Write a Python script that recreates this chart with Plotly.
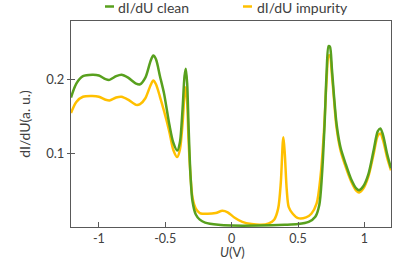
import plotly.graph_objects as go

# Data
u_clean = [-1.21, -1.17, -1.12, -1.05, -1.0, -0.95, -0.92, -0.87, -0.83, -0.78, -0.72, -0.69,
           -0.65, -0.61, -0.59, -0.57, -0.54, -0.51, -0.47, -0.44, -0.41, -0.39, -0.37, -0.355,
           -0.345, -0.335, -0.325, -0.31, -0.295, -0.27, -0.24, -0.2, -0.1, 0.0, 0.2, 0.4, 0.5,
           0.58, 0.63, 0.66, 0.68, 0.70, 0.715, 0.73, 0.74, 0.755, 0.77, 0.79, 0.82, 0.86, 0.9,
           0.94, 0.96, 0.99, 1.03, 1.07, 1.1, 1.12, 1.14, 1.17, 1.2]
didu_clean = [0.176, 0.195, 0.205, 0.207, 0.206, 0.201, 0.200, 0.205, 0.207, 0.203, 0.195, 0.194,
              0.203, 0.226, 0.233, 0.228, 0.205, 0.182, 0.14, 0.115, 0.104, 0.115, 0.16, 0.205,
              0.215, 0.195, 0.14, 0.07, 0.035, 0.017, 0.010, 0.006, 0.003, 0.002, 0.002, 0.003, 0.004,
              0.007, 0.014, 0.03, 0.07, 0.14, 0.21, 0.246, 0.245, 0.215, 0.18, 0.14, 0.108, 0.085, 0.065,
              0.052, 0.050, 0.055, 0.072, 0.105, 0.13, 0.134, 0.125, 0.1, 0.08]

u_imp = [-1.21, -1.17, -1.12, -1.05, -1.0, -0.95, -0.92, -0.87, -0.83, -0.78, -0.72, -0.69,
         -0.65, -0.61, -0.59, -0.57, -0.54, -0.51, -0.47, -0.44, -0.41, -0.39, -0.37, -0.355,
         -0.345, -0.335, -0.325, -0.31, -0.295, -0.27, -0.24, -0.18, -0.12, -0.07, -0.03, 0.02,
         0.08, 0.15, 0.22, 0.28, 0.32, 0.35, 0.37, 0.385, 0.39, 0.40, 0.415, 0.43, 0.46, 0.5,
         0.56, 0.6, 0.64, 0.67, 0.695, 0.715, 0.73, 0.74, 0.755, 0.77, 0.79, 0.82, 0.86, 0.9,
         0.94, 0.96, 0.99, 1.03, 1.07, 1.1, 1.12, 1.14, 1.17, 1.2]
didu_imp = [0.155, 0.17, 0.177, 0.178, 0.177, 0.173, 0.172, 0.176, 0.177, 0.173, 0.166, 0.167,
            0.175, 0.193, 0.199, 0.194, 0.177, 0.158, 0.13, 0.105, 0.095, 0.105, 0.14, 0.18,
            0.19, 0.17, 0.12, 0.07, 0.04, 0.025, 0.019, 0.018, 0.019, 0.022, 0.02, 0.013,
            0.007, 0.004, 0.003, 0.005, 0.01, 0.025, 0.06, 0.115, 0.122, 0.10, 0.05, 0.027, 0.018, 0.012,
            0.013, 0.018, 0.032, 0.07, 0.13, 0.2, 0.233, 0.233, 0.207, 0.175, 0.135, 0.104, 0.081, 0.062,
            0.049, 0.047, 0.052, 0.069, 0.1, 0.124, 0.127, 0.118, 0.095, 0.077]

series_names = ["dI/dU clean", "dI/dU impurity"]
x_ticks = [-1, -0.5, 0, 0.5, 1]
x_ticklabels = ["-1", "-0.5", "0", "0.5", "1"]
y_ticks = [0.1, 0.2]
y_ticklabels = ["0.1", "0.2"]

GREEN = "#58a01e"
GOLD = "#ffc000"
TXT = "#404040"
AX = "#595959"
FONT = "Lato"

W, H = 416, 259
ML, MR, MT, MB = 71, 25, 21, 32
PW, PH = W - ML - MR, H - MT - MB

def px_x(p):
    return (p - ML) / PW

def px_y(p):
    return (H - MB - p) / PH

fig = go.Figure()
fig.add_trace(go.Scatter(x=u_imp, y=didu_imp, mode="lines", name=series_names[1],
                         showlegend=False,
                         line=dict(color=GOLD, width=2.5, shape="spline", smoothing=0.8)))
fig.add_trace(go.Scatter(x=u_clean, y=didu_clean, mode="lines", name=series_names[0],
                         showlegend=False,
                         line=dict(color=GREEN, width=2.5, shape="spline", smoothing=0.8)))
fig.add_trace(go.Scatter(x=[None], y=[None], yaxis="y2", showlegend=False, hoverinfo="skip"))

# Legend drawn as short line keys + text (the reference uses very short keys)
legend_items = [(series_names[0], GREEN, 105, 116), (series_names[1], GOLD, 243, 255)]
for name, col, lx, tx in legend_items:
    fig.add_shape(type="line", xref="paper", yref="paper",
                  x0=px_x(lx), x1=px_x(lx + 9), y0=px_y(6.5), y1=px_y(6.5),
                  line=dict(color=col, width=2.5))
    fig.add_annotation(text=name, xref="paper", yref="paper", x=px_x(tx), y=px_y(7),
                       xanchor="left", yanchor="middle", showarrow=False,
                       font=dict(size=14, color=TXT, family=FONT))

# x-axis title
fig.add_annotation(text="<i>U</i>(V)", xref="paper", yref="paper", x=px_x(232.5), y=px_y(252),
                   xanchor="center", yanchor="middle", showarrow=False,
                   font=dict(size=13, color=TXT, family=FONT))

fig.update_layout(
    width=W, height=H,
    margin=dict(l=ML, r=MR, t=MT, b=MB),
    paper_bgcolor="white", plot_bgcolor="white",
    font=dict(family=FONT, size=13, color=TXT),
    showlegend=False,
    xaxis=dict(range=[-1.21, 1.2], tickvals=x_ticks, ticktext=x_ticklabels,
               ticks="inside", ticklen=5, tickcolor=AX, showgrid=False, zeroline=False,
               showline=True, linecolor=AX, linewidth=1, mirror=True,
               tickfont=dict(size=12.5)),
    yaxis=dict(range=[0, 0.28], tickvals=y_ticks, ticktext=y_ticklabels,
               ticks="outside", ticklen=3, tickcolor=AX, showgrid=False, zeroline=False,
               showline=True, linecolor=AX, linewidth=1, mirror=True,
               title=dict(text="dI/dU(a. u.)", standoff=12, font=dict(size=14)),
               tickfont=dict(size=13)),
    yaxis2=dict(range=[0, 0.28], overlaying="y", side="left", tickvals=y_ticks,
                showticklabels=False, ticks="inside", ticklen=4, tickcolor=AX,
                showgrid=False, zeroline=False, showline=False),
)

fig.write_html("out.html", config={"displayModeBar": False},
               post_script="document.body.style.margin='0';")
